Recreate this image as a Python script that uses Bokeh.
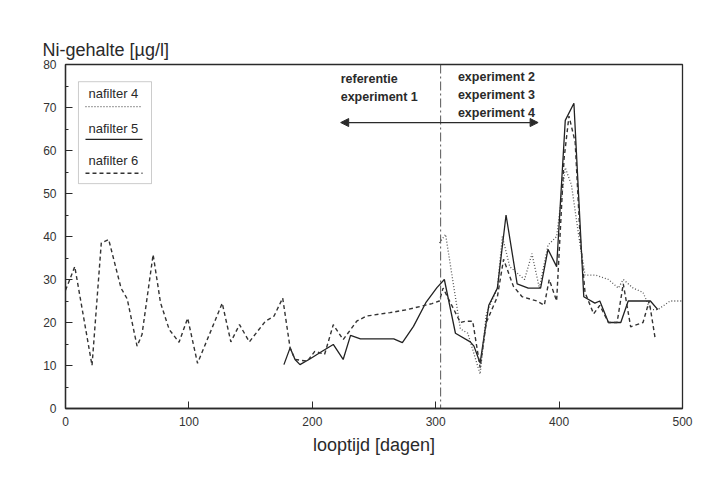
from bokeh.plotting import figure
from bokeh.models import Range1d, Span, Label, Arrow, NormalHead, FixedTicker, BoxAnnotation
from bokeh.embed import file_html
from bokeh.resources import INLINE

# ---------------- data ----------------
# nafilter 4 (dotted)
days_f4 = [303, 308, 320, 326, 336, 341, 350, 354, 360, 366, 372, 378, 384, 391, 398, 405,
           410, 416, 421, 430, 440, 448, 452, 460, 468, 474, 480, 490, 500]
ni_f4 = [38.5, 40.5, 18.5, 17.5, 8, 22, 28, 40, 33, 31.5, 30, 36, 28, 38, 40, 56,
         52, 40, 31, 31, 30, 28, 30, 28, 27, 23, 23, 25, 25]

# nafilter 5 (solid)
days_f5 = [177, 182, 186, 190, 198, 208, 217, 225, 231, 239, 266, 273, 282, 292, 301, 307,
           316, 328, 331, 336, 343, 350, 357, 366, 375, 385, 391, 398, 405, 412, 420, 429,
           433, 440, 450, 456, 474, 480]
ni_f5 = [10.2, 14.1, 11.4, 10.2, 11.5, 13.3, 14.9, 11.4, 17, 16.2, 16.2, 15.3, 19.1, 24.6, 28.1, 30,
         17.5, 15.5, 14.5, 10.6, 24, 28, 45, 29, 28, 28, 37, 33, 67, 71, 26, 24.5,
         25, 20, 20, 25, 25, 23]

# nafilter 6 (dashed)
days_f6 = [0, 3.5, 7.5, 21.5, 29, 35, 45, 50, 58, 62, 71, 77, 84, 92, 99, 107, 127, 134, 141,
           149, 162, 169, 176, 182, 186, 196, 202, 210, 217, 225, 236, 244, 263, 277, 297, 303,
           306, 320, 324, 330, 336, 341, 350, 355, 363, 370, 382, 388, 392, 398, 404, 408, 413,
           417, 421, 428, 433, 440, 447, 452, 458, 468, 473, 478]
ni_f6 = [27.5, 30, 33, 10, 38.5, 39.3, 28, 25.5, 14.5, 17.2, 35.8, 24.6, 18.4, 15.4, 21, 10.5, 24.5, 15.5, 19.5,
         15.5, 20.3, 21.5, 25.7, 14.1, 11.4, 11, 13.3, 12.6, 19.5, 16, 20.3, 21.5, 22.3, 23, 24.4, 25,
         28, 20, 20.3, 20.3, 9.5, 20, 26, 34.7, 28.4, 26, 25, 24, 30, 25, 58, 68, 62,
         40, 27, 22, 24, 20, 20, 29, 19, 20, 25, 16]

series_labels = ["nafilter 4", "nafilter 5", "nafilter 6"]
x_ticks = [0, 100, 200, 300, 400, 500]
y_ticks = [0, 10, 20, 30, 40, 50, 60, 70, 80]
y_minor = [5, 15, 25, 35, 45, 55, 65, 75]
boundary_day = 304
left_texts = ["referentie", "experiment 1"]
right_texts = ["experiment 2", "experiment 3", "experiment 4"]

FONT = "Liberation Sans"
INK = "#2a2a2a"

p = figure(width=706, height=477, output_backend="svg", toolbar_location=None,
           x_range=Range1d(0, 500), y_range=Range1d(0, 80),
           min_border_left=65, min_border_right=24, min_border_top=64, min_border_bottom=69,
           title="Ni-gehalte [µg/l]")
p.background_fill_color = "white"
p.border_fill_color = "white"
p.grid.visible = False
p.outline_line_color = INK
p.outline_line_width = 1.3

p.title.text_font = FONT
p.title.text_font_size = "18px"
p.title.text_font_style = "normal"
p.title.text_color = INK
p.title.align = "left"
p.title.offset = -23

xa = p.xaxis[0]
xa.ticker = FixedTicker(ticks=x_ticks)
xa.major_tick_in = 7
xa.major_tick_out = 0
xa.minor_tick_in = 0
xa.minor_tick_out = 0
xa.axis_line_color = INK
xa.axis_line_width = 1.3
xa.major_tick_line_color = INK
xa.major_label_text_font = FONT
xa.major_label_text_font_size = "12px"
xa.major_label_text_color = "#333333"
xa.major_label_standoff = 8
xa.axis_label = "looptijd [dagen]"
xa.axis_label_text_font = FONT
xa.axis_label_text_font_size = "18px"
xa.axis_label_text_font_style = "normal"
xa.axis_label_text_color = INK
xa.axis_label_standoff = 6

ya = p.yaxis[0]
ya.ticker = FixedTicker(ticks=y_ticks, minor_ticks=y_minor)
ya.major_tick_in = 7
ya.major_tick_out = 0
ya.minor_tick_in = 3
ya.minor_tick_out = 0
ya.axis_line_color = INK
ya.axis_line_width = 1.3
ya.major_tick_line_color = INK
ya.minor_tick_line_color = INK
ya.major_label_text_font = FONT
ya.major_label_text_font_size = "12px"
ya.major_label_text_color = "#333333"
ya.major_label_standoff = 9

# experiment boundary
p.add_layout(Span(location=boundary_day, dimension="height", line_color="#444444",
                  line_width=0.9, line_dash="9 3 2 3", level="underlay"))

# series
style_f4 = dict(line_color="#555555", line_width=1.3, line_dash="1 2")
style_f5 = dict(line_color="#222222", line_width=1.3)
style_f6 = dict(line_color="#333333", line_width=1.4, line_dash="4 3")
p.line(days_f4, ni_f4, **style_f4)
p.line(days_f5, ni_f5, **style_f5)
p.line(days_f6, ni_f6, **style_f6)

# annotation texts and arrow
for i, t in enumerate(left_texts):
    p.add_layout(Label(x=223, y=76.7 - i * 4.2, text=t, text_font=FONT, text_font_size="12.5px",
                       text_font_style="bold", text_color=INK, text_baseline="middle"))
for i, t in enumerate(right_texts):
    p.add_layout(Label(x=318, y=77.2 - i * 4.2, text=t, text_font=FONT, text_font_size="12.5px",
                       text_font_style="bold", text_color=INK, text_baseline="middle"))
p.add_layout(Arrow(x_start=223, y_start=66.5, x_end=383, y_end=66.5, line_color=INK, line_width=1.2,
                   start=NormalHead(size=8, fill_color=INK, line_color=INK),
                   end=NormalHead(size=8, fill_color=INK, line_color=INK)))

# legend box (drawn by hand: label above sample line)
p.add_layout(BoxAnnotation(left=10.5, right=69.7, bottom=52.3, top=76, fill_alpha=0,
                           line_color="#555555", line_width=1))
leg_text_y = [73.3, 65.2, 57.6]
leg_line_y = [70.2, 62.6, 54.7]
leg_styles = [style_f4, style_f5, style_f6]
for lab, ty, ly, st in zip(series_labels, leg_text_y, leg_line_y, leg_styles):
    p.add_layout(Label(x=18.6, y=ty, text=lab, text_font=FONT, text_font_size="13px",
                       text_color=INK, text_baseline="middle"))
    p.line([16.2, 62.4], [ly, ly], **st)

open("out.html", "w").write(file_html(p, INLINE))
